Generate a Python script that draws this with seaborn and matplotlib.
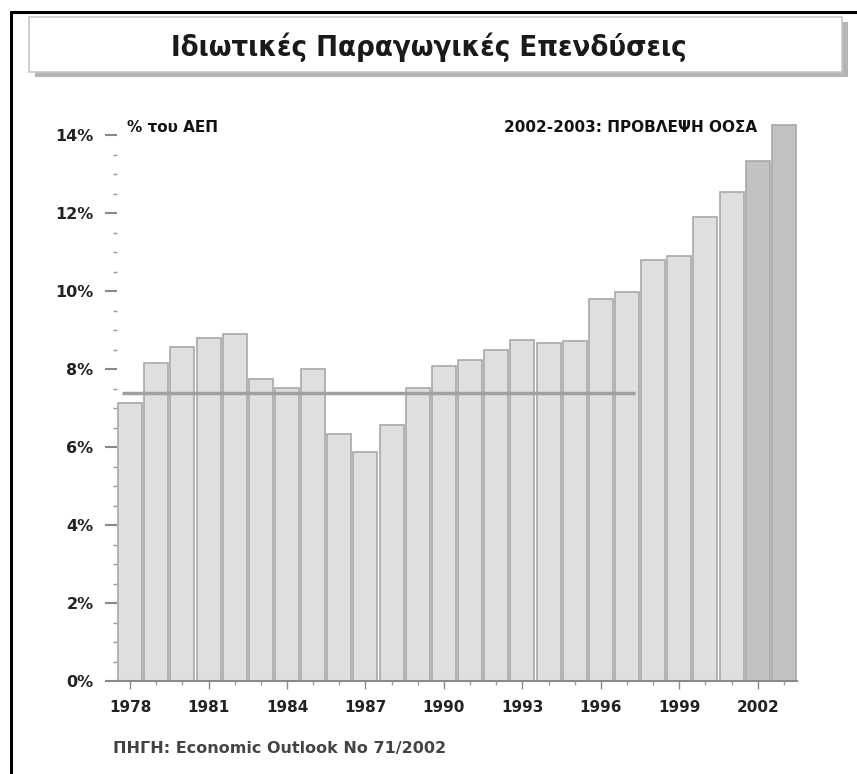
import numpy as np
import pandas as pd
import matplotlib
matplotlib.use('Agg')
import matplotlib.pyplot as plt
from matplotlib.patches import Rectangle
import seaborn as sns

# data (% of GDP)
years = list(range(1978, 2004))
values = [7.13, 8.15, 8.56, 8.79, 8.90, 7.74, 7.51, 8.00, 6.33, 5.87,
          6.56, 7.51, 8.08, 8.23, 8.49, 8.74, 8.67, 8.72, 9.80, 9.97,
          10.80, 10.90, 11.90, 12.54, 13.33, 14.26]
kind = ['actual'] * 24 + ['forecast'] * 2
ref_level = 7.38
ref_span = (1978, 1997)

title = 'Ιδιωτικές Παραγωγικές Επενδύσεις'
unit_label = '% του ΑΕΠ'
note = '2002-2003: ΠΡΟΒΛΕΨΗ ΟΟΣΑ'
source = 'ΠΗΓΗ: Economic Outlook No 71/2002'

df = pd.DataFrame({'Year': years, 'Value': values, 'Kind': kind})

sns.set_style('white')
plt.rcParams['font.family'] = ['DejaVu Sans']

fig = plt.figure(figsize=(8.57, 7.74), dpi=100)
W, H = 857, 774

def fx(px):
    return px / W

def fy(py):
    return 1 - py / H

# outer frame (left + top only, cropped)
fig.add_artist(plt.Line2D([fx(11), fx(11)], [fy(12), 0], color='black', lw=2.2, transform=fig.transFigure))
fig.add_artist(plt.Line2D([fx(11), 1], [fy(12), fy(12)], color='black', lw=2.2, transform=fig.transFigure))

# title box with shadow
fig.add_artist(Rectangle((fx(35), fy(77)), fx(813), fy(17) - fy(72), transform=fig.transFigure,
                         facecolor='#b5b5b5', edgecolor='none'))
fig.add_artist(Rectangle((fx(29), fy(72)), fx(813), fy(17) - fy(72), transform=fig.transFigure,
                         facecolor='white', edgecolor='#c8c8c8', lw=1.2))
fig.text(fx(429), fy(47), title, ha='center', va='center', fontsize=21,
         fontstretch='condensed', fontweight='bold', color='#1a1a1a')

ax = fig.add_axes([fx(117), fy(681), fx(680), fy(0) - fy(565.5)])

sns.barplot(data=df, x='Year', y='Value', hue='Kind', dodge=False, legend=False,
            palette={'actual': '#dfdfdf', 'forecast': '#c2c2c2'},
            width=0.92, edgecolor='#a8a8a8', linewidth=1.2, saturation=1, ax=ax)

i0 = years.index(ref_span[0])
i1 = years.index(ref_span[1])
ax.hlines(ref_level, i0 - 0.3, i1 + 0.3, color='#a0a0a0', lw=2.5, zorder=5)

ax.set_xlim(-0.5, len(years) - 0.5)
ax.set_ylim(0, 14.5)

major_x = list(range(0, len(years), 3))
ax.set_xticks(major_x)
ax.set_xticklabels([str(years[i]) for i in major_x], fontsize=11, fontweight='bold', color='#222')
ax.set_xticks(range(len(years)), minor=True)

ax.set_yticks(np.arange(0, 15, 2))
ax.set_yticklabels([f'{v}%' for v in range(0, 15, 2)], fontsize=11.5, fontweight='bold', color='#222')
ax.set_yticks(np.arange(0, 14.5, 0.5), minor=True)

ax.tick_params(axis='y', which='major', length=9, width=1.5, color='#8a8a8a', pad=8, left=True)
ax.tick_params(axis='y', which='minor', length=3, width=1, color='#9a9a9a', left=True)
ax.tick_params(axis='x', which='major', length=6, width=1, color='#8a8a8a', pad=8, bottom=True)
ax.tick_params(axis='x', which='minor', length=3, width=1, color='#9a9a9a', bottom=True)

ax.set_xlabel('')
ax.set_ylabel('')
for s in ['top', 'right', 'left']:
    ax.spines[s].set_visible(False)
ax.spines['bottom'].set_color('#8a8a8a')
ax.spines['bottom'].set_linewidth(1.5)
ax.spines['bottom'].set_bounds(-0.5, len(years) - 0.5)

fig.text(fx(127), fy(127), unit_label, ha='left', va='center', fontsize=11, fontweight='bold', color='#111')
fig.text(fx(757), fy(127), note, ha='right', va='center', fontsize=11, fontweight='bold', color='#111')
fig.text(fx(113), fy(748), source, ha='left', va='center', fontsize=11.5, fontweight='bold', color='#444')

fig.savefig('out.png', dpi=100)
